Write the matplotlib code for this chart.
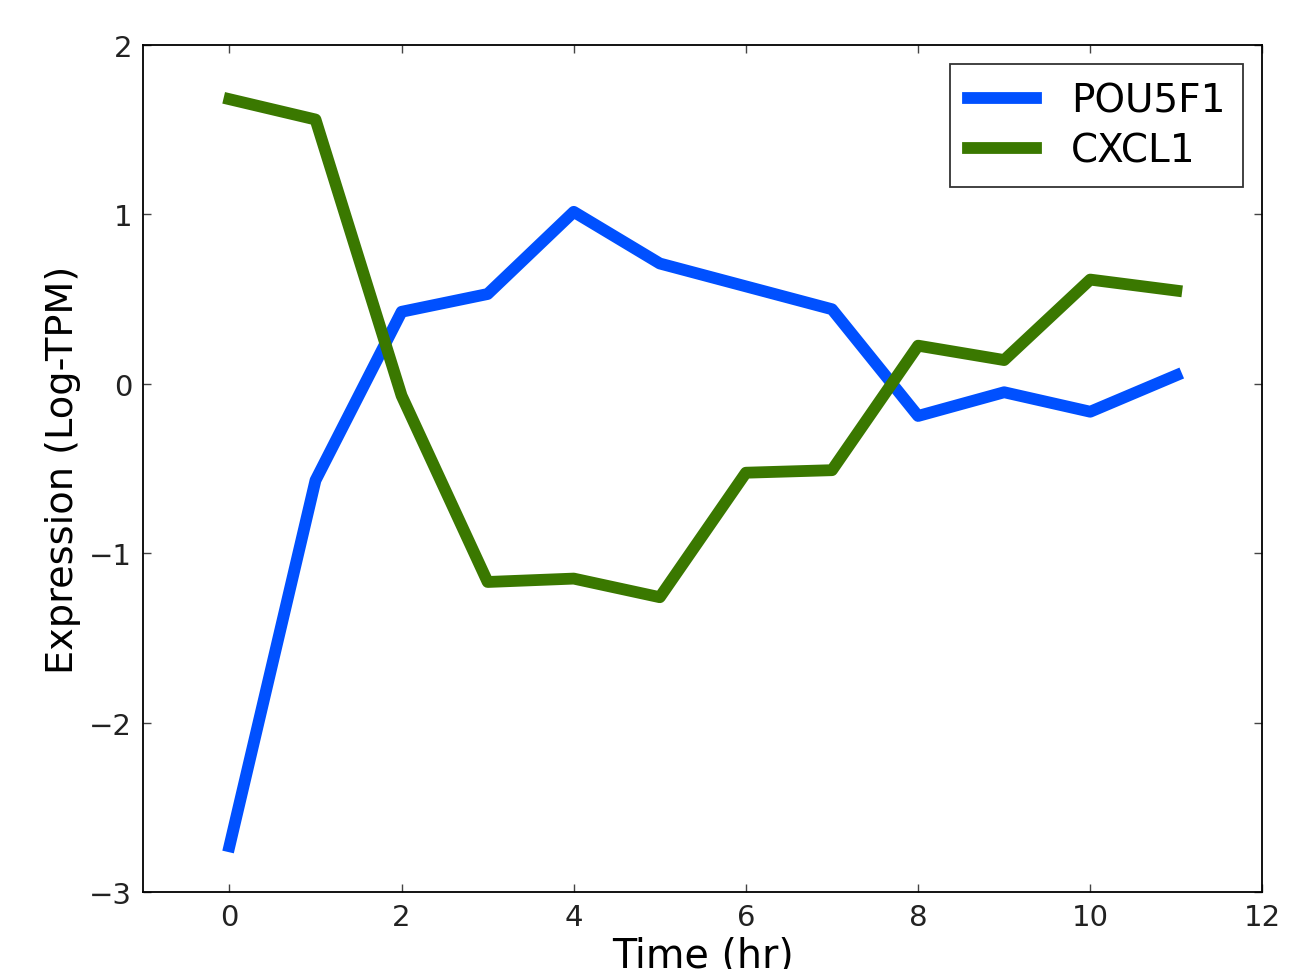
import numpy as np
import matplotlib
matplotlib.use('Agg')
import matplotlib.pyplot as plt

# Time points (hr)
time_hr = [0, 1, 2, 3, 4, 5, 6, 7, 8, 9, 10, 11]

# Log-TPM expression per gene
pou5f1 = [-2.73, -0.57, 0.425, 0.53, 1.015, 0.71, 0.575, 0.44, -0.19, -0.05, -0.165, 0.05]
cxcl1 = [1.68, 1.56, -0.07, -1.17, -1.15, -1.26, -0.525, -0.51, 0.225, 0.14, 0.615, 0.55]

x_ticks = [0, 2, 4, 6, 8, 10, 12]
y_ticks = [-3, -2, -1, 0, 1, 2]


def plot_expression():
    fig = plt.figure(figsize=(13.15, 9.7), dpi=100)
    ax = fig.add_axes([0.109, 0.0794, 0.851, 0.8732])

    ax.plot(time_hr, pou5f1, color='#0050ff', linewidth=8.5, label='POU5F1')
    ax.plot(time_hr, cxcl1, color='#3a7800', linewidth=8.5, label='CXCL1')

    ax.set_xlim(-1, 12)
    ax.set_ylim(-3, 2)
    ax.set_xticks(x_ticks)
    ax.set_yticks(y_ticks)
    ax.tick_params(direction='in', length=6, width=1, labelsize=21, pad=8,
                   top=True, right=True, labelcolor='#222222', color='#444444')
    for s in ax.spines.values():
        s.set_linewidth(1.3)

    ax.set_xlabel('Time (hr)', fontsize=28.5, labelpad=3)
    ax.set_ylabel('Expression (Log-TPM)', fontsize=27.5, labelpad=6)

    leg = ax.legend(loc='upper right', fontsize=28, fancybox=False,
                    handlelength=1.75, borderpad=0.45, labelspacing=0.3,
                    handletextpad=0.9, borderaxespad=0.5)
    leg.get_frame().set_edgecolor('black')
    leg.get_frame().set_linewidth(1.3)

    plt.savefig('out.png', dpi=100)
    plt.close()


if __name__ == '__main__':
    plot_expression()
